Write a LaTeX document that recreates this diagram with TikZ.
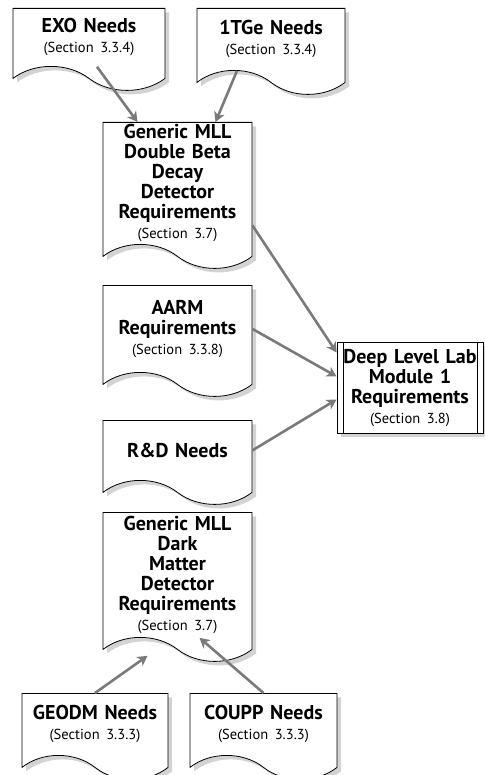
\documentclass[tikz,border=0pt]{standalone}
\usepackage{fontspec}
\setmainfont{PT Sans}
\usepackage{tikz}
\usetikzlibrary{shapes.symbols,arrows.meta,positioning,shadows}

\definecolor{arrowgray}{HTML}{7A7A7A}
\newcommand{\secfont}{\normalfont\fontsize{14.5}{16}\selectfont}

\begin{document}
\begin{tikzpicture}[
    x=1pt, y=1pt,
    doc/.style={tape, tape bend top=none, tape bend bottom=out and in, tape bend height=24pt,
      draw, line width=0.8pt, fill=white, anchor=north, text width=142pt, align=center,
      inner sep=2pt, font=\bfseries\fontsize{20}{20}\selectfont,
      drop shadow={shadow xshift=4pt, shadow yshift=-4pt, opacity=0.35}},
    procbox/.style={rectangle, draw, line width=0.8pt, fill=white, minimum width=146pt,
      minimum height=91pt, text width=142pt, align=center, inner sep=2pt,
      font=\bfseries\fontsize{20}{20}\selectfont,
      drop shadow={shadow xshift=4pt, shadow yshift=-4pt, opacity=0.35}},
    arrow/.style={-{Stealth[length=10pt,width=11pt,inset=3pt]}, line width=2.6pt, arrowgray}
]
\useasboundingbox (0,0) rectangle (484,-775);

% Top needs
\node[doc, minimum width=152pt, minimum height=82pt] (exo) at (89,-8) {EXO Needs\\{\secfont (Section 3.3.4)}};
\node[doc, minimum width=148pt, minimum height=86pt] (tge) at (271,-8) {1TGe Needs\\{\secfont (Section 3.3.4)}};

% Double beta decay
\node[doc, minimum width=149pt, minimum height=146pt] (dbd) at (177.5,-122)
  {Generic MLL\\Double Beta\\Decay\\Detector\\Requirements\\{\secfont (Section 3.7)}};

% AARM and R&D
\node[doc, minimum width=149pt, minimum height=111pt] (aarm) at (177.5,-285)
  {AARM\\Requirements\\{\secfont (Section 3.3.8)}};
\node[doc, minimum width=149pt, minimum height=84pt] (rnd) at (177.5,-420) {R\&D Needs};

% Deep level lab
\node[procbox] (dll) at (410,-387.5) {Deep Level Lab\\Module 1\\Requirements\\{\secfont (Section 3.8)}};
\draw[line width=0.5pt] ([xshift=7pt]dll.north west) -- ([xshift=7pt]dll.south west);
\draw[line width=0.5pt] ([xshift=-6pt]dll.north east) -- ([xshift=-6pt]dll.south east);

% Dark matter
\node[doc, minimum width=149pt, minimum height=149pt] (dm) at (177.5,-512)
  {Generic MLL\\Dark\\Matter\\Detector\\Requirements\\{\secfont (Section 3.7)}};

% Bottom needs
\node[doc, minimum width=146pt, minimum height=86pt] (geodm) at (95,-693) {GEODM Needs\\{\secfont (Section 3.3.3)}};
\node[doc, minimum width=147pt, minimum height=86pt] (coupp) at (263.5,-693) {COUPP Needs\\{\secfont (Section 3.3.3)}};

% Arrows
\draw[arrow] ([xshift=8pt]exo.south) -- ([xshift=-40pt]dbd.north);
\draw[arrow] ([xshift=-34pt]tge.south) -- ([xshift=38pt]dbd.north);
\draw[arrow] ([yshift=-42pt]dbd.east) -- ([yshift=35pt]dll.west);
\draw[arrow] (aarm.east) -- ([yshift=11pt]dll.west);
\draw[arrow] (rnd.east) -- ([yshift=-12pt]dll.west);
\draw[arrow] (geodm.north) -- ([xshift=-30pt,yshift=-18pt]dm.south);
\draw[arrow] (coupp.north) -- ([xshift=22pt]dm.south);

\end{tikzpicture}
\end{document}
